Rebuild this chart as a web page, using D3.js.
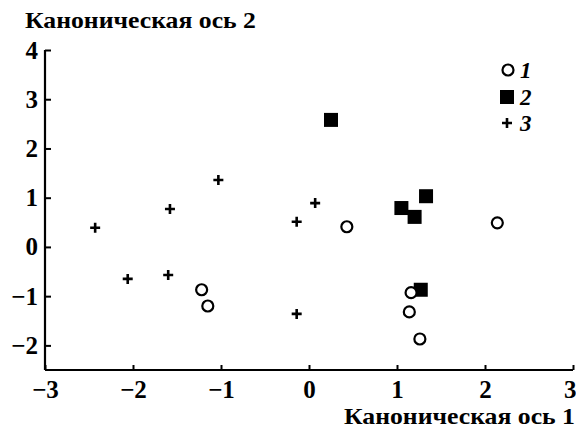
<!DOCTYPE html>
<html><head><meta charset="utf-8">
<script src="https://cdn.jsdelivr.net/npm/d3@7"></script>
<style>body{margin:0;background:#fff}svg{display:block}text{font-family:"Liberation Serif","DejaVu Serif",serif;font-weight:bold;fill:#000}</style>
</head><body><svg id="c" width="576" height="433"></svg>
<script>
const group1 = [[-1.22,-0.87],[-1.15,-1.20],[0.43,0.41],[2.14,0.49],[1.16,-0.93],[1.14,-1.32],[1.26,-1.87]];
const group2 = [[0.25,2.58],[1.33,1.03],[1.05,0.79],[1.20,0.61],[1.27,-0.87]];
const group3 = [[-2.43,0.39],[-2.06,-0.65],[-1.58,0.77],[-1.60,-0.57],[-1.03,1.36],[-0.14,0.51],[0.07,0.89],[-0.14,-1.36]];
const xTicks = [-3,-2,-1,0,1,2,3];
const yTicks = [-2,-1,0,1,2,3,4];
const legendLabels = ["1","2","3"];
const xTitle = "Каноническая ось 1";
const yTitle = "Каноническая ось 2";

const svg = d3.select("#c");
const x = d3.scaleLinear().domain([-3,3]).range([45,573]);
const y = d3.scaleLinear().domain([-2.5,4]).range([370,50]);
const fmt = d => d < 0 ? "\u2212" + Math.abs(d) : String(d);

const gx = svg.append("g").attr("transform","translate(0,370)")
  .call(d3.axisBottom(x).tickValues(xTicks).tickSize(-5).tickPadding(0).tickFormat(fmt));
const gy = svg.append("g").attr("transform","translate(45,0)")
  .call(d3.axisLeft(y).tickValues(yTicks).tickSize(-6).tickPadding(7).tickFormat(fmt));
[gx,gy].forEach(g=>{
  g.select(".domain").attr("stroke","#000").attr("stroke-width",2.2);
  g.selectAll(".tick line").attr("stroke","#000").attr("stroke-width",2);
  g.selectAll(".tick text").style("font-family","'Liberation Serif',serif").style("font-weight","bold").style("font-size","25px").attr("fill","#000");
});
gx.selectAll(".tick text").attr("y",27.5).attr("dy",null);
gx.selectAll(".tick text").filter(d=>d===3).attr("text-anchor","end").attr("x",3);
gy.select(".domain").attr("d","M0,370V50");
gx.select(".domain").attr("d","M45,0H573");

svg.append("text").attr("x",25).attr("y",28).style("font-size","23px")
  .attr("textLength",231).attr("lengthAdjust","spacingAndGlyphs").text(yTitle);
svg.append("text").attr("x",575).attr("y",424).attr("text-anchor","end").style("font-size","23px")
  .attr("textLength",231).attr("lengthAdjust","spacingAndGlyphs").text(xTitle);

const crossPath = s => `M${-s},0H${s}M0,${-s}V${s}`;
const drawCircle = (g,px,py)=>g.append("circle").attr("cx",px).attr("cy",py).attr("r",5.5).attr("fill","#fff").attr("stroke","#000").attr("stroke-width",2.2);
const drawSquare = (g,px,py)=>g.append("rect").attr("x",px-7).attr("y",py-7).attr("width",14).attr("height",14).attr("fill","#000");
const drawCross = (g,px,py)=>g.append("path").attr("d",crossPath(5)).attr("transform",`translate(${px},${py})`).attr("stroke","#000").attr("stroke-width",2.6);

const pg = svg.append("g");
group3.forEach(d=>drawCross(pg,x(d[0]),y(d[1])));
group2.forEach(d=>drawSquare(pg,x(d[0]),y(d[1])));
group1.forEach(d=>drawCircle(pg,x(d[0]),y(d[1])));

const lg = svg.append("g");
const lys = [70,97,123];
drawCircle(lg,508,lys[0]);
drawSquare(lg,507,lys[1]);
drawCross(lg,507,lys[2]);
legendLabels.forEach((t,i)=>lg.append("text").attr("x",520).attr("y",lys[i]+8).style("font-size","23px").style("font-style","italic").text(t));
</script></body></html>
